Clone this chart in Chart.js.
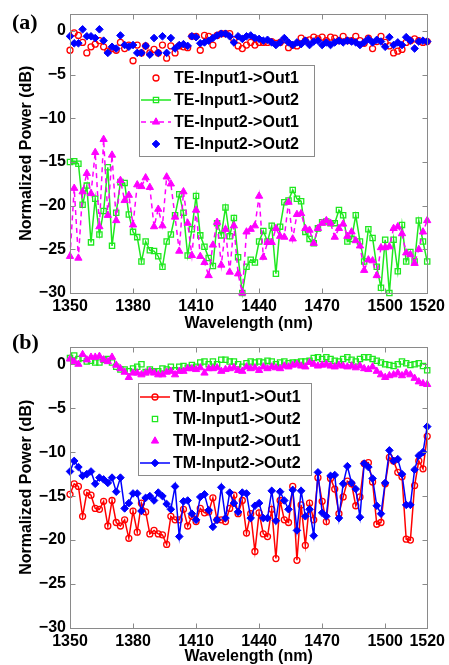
<!DOCTYPE html>
<html>
<head>
<meta charset="utf-8">
<script src="https://cdn.jsdelivr.net/npm/chart.js@4/dist/chart.umd.min.js"></script>
<style>
  html, body { margin: 0; padding: 0; background: #fff; }
  #wrap { position: relative; width: 449px; height: 665px; overflow: hidden; }
  .panel { position: absolute; left: 0; width: 449px; height: 332px; }
  .pl { position: absolute; font-family: "Liberation Serif", "DejaVu Serif", serif; font-weight: bold;
        font-size: 22px; line-height: 22px; color: #000; z-index: 5; }
</style>
</head>
<body>
<div id="wrap">
  <div class="panel" style="top:0"><canvas id="c1"></canvas></div>
  <div class="panel" style="top:333px"><canvas id="c2"></canvas></div>
  <div class="pl" style="left:12px;top:11px">(a)</div>
  <div class="pl" style="left:12px;top:331px">(b)</div>
</div>
<script>
// ---------- DATA ----------
const wavelengths = [1350,1352,1354,1356,1358,1360,1362,1364,1366,1368,
  1370,1372,1374,1376,1378,1380,1382,1384,1386,1388,
  1390,1392,1394,1396,1398,1400,1402,1404,1406,1408,
  1410,1412,1414,1416,1418,1420,1422,1424,1426,1428,
  1430,1432,1434,1436,1438,1440,1442,1444,1446,1448,
  1450,1452,1454,1456,1458,1460,1462,1464,1466,1468,
  1470,1472,1474,1476,1478,1480,1482,1484,1486,1488,
  1490,1492,1494,1496,1498,1500,1502,1504,1506,1508,
  1510,1512,1514,1516,1518,1520];

const xTicks = [1350, 1380, 1410, 1440, 1470, 1500, 1520];
const yTicks = [-30, -25, -20, -15, -10, -5, 0];

// (a) TE
const teIn1Out1 = [-2.2,-0.2,-0.5,-1.3,-2.5,-1.8,-1.5,-1.1,-1.8,-2.3,
  -2.0,-2.2,-1.3,-2.0,-1.6,-3.4,-1.6,-2.5,-1.7,-2.5,
  -2.1,-2.5,-1.6,-3.1,-1.7,-2.5,-1.7,-1.8,-1.9,-0.6,
  -0.6,-2.2,-0.5,-0.6,-1.6,-0.5,-0.3,-0.3,-0.3,-1.0,
  -1.7,-2.0,-1.6,-1.3,-1.6,-1.3,-1.3,-1.3,-1.2,-1.4,
  -1.3,-1.0,-1.9,-1.6,-1.7,-0.8,-1.1,-1.0,-0.7,-0.9,
  -0.7,-1.1,-0.7,-0.8,-1.1,-0.6,-1.1,-1.1,-0.6,-1.1,
  -1.4,-0.8,-2.0,-1.2,-0.6,-1.3,-1.7,-2.5,-2.3,-2.1,
  -1.3,-1.1,-0.9,-1.1,-1.3,-1.2];
const teIn1Out2 = [-15.0,-14.9,-15.2,-19.9,-17.7,-24.2,-19.2,-23.3,-20.6,-15.6,
  -24.6,-20.8,-17.3,-17.4,-21.0,-23.0,-23.6,-26.4,-24.1,-25.1,
  -25.2,-25.8,-27.0,-24.1,-23.3,-21.1,-18.7,-20.8,-25.7,-22.7,
  -18.9,-23.4,-24.7,-26.0,-26.9,-22.0,-23.4,-20.2,-23.5,-21.4,
  -25.9,-30.0,-27.0,-26.2,-26.5,-24.1,-22.9,-24.1,-22.3,-27.8,
  -22.4,-19.6,-19.4,-18.2,-19.2,-19.5,-23.0,-23.8,-24.3,-22.6,
  -21.9,-21.8,-22.0,-22.0,-20.5,-21.1,-24.1,-23.8,-21.1,-24.1,
  -26.4,-22.7,-23.7,-27.0,-29.4,-23.9,-30.0,-23.9,-27.5,-22.2,
  -26.4,-25.3,-26.4,-21.7,-24.1,-26.4];
const teIn2Out1 = [-25.8,-18.0,-26.0,-18.4,-16.3,-18.6,-13.9,-22.4,-12.4,-21.1,
  -14.2,-21.7,-17.1,-19.4,-18.8,-22.2,-17.6,-17.8,-16.8,-17.9,
  -22.4,-20.4,-22.3,-16.7,-17.5,-21.3,-25.2,-18.4,-22.0,-25.7,
  -20.5,-25.8,-26.5,-28.0,-24.5,-21.9,-26.8,-22.7,-27.6,-22.3,
  -27.8,-30.0,-23.0,-22.7,-22.3,-18.9,-25.9,-24.2,-24.2,-22.6,
  -23.5,-23.6,-19.6,-23.8,-21.0,-20.9,-22.6,-22.8,-24.3,-22.6,
  -22.0,-21.7,-22.0,-23.6,-22.6,-22.1,-23.5,-23.0,-24.0,-24.6,
  -27.4,-26.2,-26.3,-28.0,-24.8,-24.8,-24.7,-22.6,-22.4,-23.2,
  -25.4,-25.6,-26.6,-25.0,-23.0,-21.7];
const teIn2Out2 = [-0.6,-1.4,-1.4,0.2,-0.6,-0.6,-0.8,0.2,-1.1,-2.5,
  -1.8,-2.0,-0.5,-1.6,-1.8,-1.6,-2.5,-2.5,-1.7,-2.7,
  -0.8,-2.5,-0.6,-2.5,-0.8,-2.0,-1.6,-1.5,-1.7,-0.6,
  -0.7,-1.4,-1.3,-1.1,-0.8,-0.5,-0.3,-0.3,-0.6,-1.3,
  -0.6,-0.9,-0.6,-0.5,-0.8,-0.9,-1.1,-1.0,-1.3,-1.6,
  -1.3,-0.8,-1.3,-1.6,-1.3,-1.5,-1.1,-1.6,-1.2,-1.1,
  -1.6,-1.3,-1.6,-1.3,-1.1,-1.3,-1.1,-1.2,-1.3,-1.6,
  -1.3,-0.9,-1.3,-1.0,-1.2,-1.8,-0.7,-1.6,-1.3,-1.6,
  -0.7,-1.1,-2.0,-1.2,-1.1,-1.2];

// (b) TM
const tmIn1Out1 = [-14.8,-13.6,-13.9,-17.3,-14.6,-14.9,-16.4,-16.5,-15.6,-18.4,
  -15.5,-18.0,-18.4,-17.7,-19.8,-16.7,-19.1,-15.8,-16.8,-19.3,
  -18.9,-19.3,-19.4,-20.5,-17.3,-17.7,-17.7,-16.5,-18.4,-17.3,
  -17.9,-16.4,-16.9,-16.8,-15.2,-17.7,-17.7,-17.9,-16.4,-14.9,
  -17.0,-15.5,-19.2,-17.0,-21.3,-16.9,-19.3,-19.6,-16.5,-22.1,
  -15.5,-17.7,-18.0,-13.9,-22.3,-16.0,-20.6,-15.8,-17.7,-12.9,
  -15.6,-17.9,-13.0,-14.2,-17.0,-15.1,-13.3,-13.6,-16.1,-15.1,
  -11.3,-11.2,-13.4,-18.2,-18.0,-13.6,-10.6,-11.0,-12.3,-12.8,
  -19.9,-20.0,-13.8,-11.0,-11.9,-8.2];
const tmIn1Out2 = [0.7,1.0,0.6,0.7,0.3,0.4,0.2,0.2,0.5,0.6,
  0.2,-0.3,-0.6,-0.6,-0.8,-0.5,-0.3,0.0,-0.9,-0.6,
  -0.8,-0.8,-0.5,-0.6,-0.3,-0.7,-0.3,-0.2,-0.4,-0.1,
  -0.3,0.2,0.3,0.0,0.3,0.0,0.5,0.5,0.3,0.3,
  0.0,-0.3,0.1,0.3,0.2,0.3,0.2,0.4,0.3,0.0,
  0.2,0.3,0.1,0.2,0.2,0.3,0.3,0.4,0.7,0.8,
  0.6,0.8,0.6,0.4,0.3,0.6,0.8,0.5,0.3,0.6,
  0.8,0.8,0.6,0.4,0.2,0.0,-0.1,-0.2,0.0,0.3,
  0.1,-0.1,0.0,0.1,-0.2,-0.7];
const tmIn2Out1 = [0.6,0.3,0.0,1.1,0.5,0.8,0.8,0.9,0.5,0.3,
  0.8,-0.1,-0.5,-0.9,-1.5,-1.0,-1.0,-1.2,-1.0,-0.8,
  -1.0,-1.2,-1.2,-0.9,-0.8,-1.2,-0.8,-0.8,-0.5,-0.5,
  -0.6,-0.4,-1.0,-0.5,-0.5,-0.4,-0.8,-0.6,-0.5,-0.4,
  -0.7,-0.8,-0.3,-0.5,-0.4,-0.7,-0.3,-0.5,-0.3,-0.4,
  -0.5,-0.2,-0.3,-0.1,0.0,-0.2,-0.3,0.2,0.0,-0.2,
  -0.1,0.0,-0.2,-0.3,-0.1,-0.2,-0.3,-0.2,-0.4,-0.2,
  -0.5,-0.6,-0.3,-0.8,-1.2,-1.5,-1.3,-1.2,-1.0,-1.3,
  -1.0,-1.2,-1.6,-2.0,-2.2,-2.3];
const tmIn2Out2 = [-12.2,-11.0,-11.7,-12.7,-12.5,-12.2,-13.6,-12.9,-13.1,-13.5,
  -12.9,-14.5,-12.9,-16.4,-15.8,-14.7,-14.7,-16.7,-15.2,-15.0,
  -15.5,-14.6,-15.0,-15.9,-16.5,-13.9,-19.6,-15.6,-15.5,-17.0,
  -17.7,-15.1,-14.8,-16.6,-18.5,-17.7,-14.0,-17.5,-14.6,-15.8,
  -16.8,-14.6,-14.7,-17.5,-16.1,-15.8,-17.5,-17.5,-14.4,-17.8,
  -14.5,-15.5,-16.5,-14.3,-18.9,-14.4,-17.3,-16.5,-19.5,-12.3,
  -16.9,-17.3,-12.7,-12.6,-17.5,-13.6,-11.6,-13.5,-14.2,-17.4,
  -11.3,-11.7,-13.0,-16.1,-17.0,-13.5,-9.8,-11.0,-10.8,-12.5,
  -16.0,-16.0,-12.0,-10.4,-10.0,-7.1];

const teLabels = ['TE-Input1->Out1', 'TE-Input1->Out2', 'TE-Input2->Out1', 'TE-Input2->Out2'];
const tmLabels = ['TM-Input1->Out1', 'TM-Input1->Out2', 'TM-Input2->Out1', 'TM-Input2->Out2'];

// ---------- STYLE ----------
const RED = '#ff0000', GREEN = '#1fe81f', MAG = '#ff00ff', BLUE = '#0000ff';
const FONT = '"Liberation Sans", Arial, Helvetica, sans-serif';
const pts = (vals) => wavelengths.map((w, i) => ({ x: w, y: vals[i] }));

function ds(label, vals, o, idx) {
  return Object.assign({
    label, data: pts(vals), clip: false, order: 10 - idx,
    borderWidth: 1.5, pointBorderWidth: 1.3, pointHoverRadius: 0,
  }, o);
}
const sCircleOpen = (c, line) => ({ showLine: line, borderColor: c, pointStyle: 'circle', pointRadius: 3,
  pointBorderColor: c, pointBackgroundColor: 'rgba(0,0,0,0)', backgroundColor: 'rgba(0,0,0,0)' });
const sSquareOpen = (c, line) => ({ showLine: line, borderColor: c, pointStyle: 'rect', pointRadius: 3.7,
  pointBorderColor: c, pointBackgroundColor: 'rgba(0,0,0,0)', backgroundColor: 'rgba(0,0,0,0)' });
const sTriangle = (c, line, dash) => ({ showLine: line, borderColor: c, borderDash: dash || [], pointStyle: 'triangle',
  pointRadius: 4.2, pointBorderWidth: 1, pointBorderColor: c, pointBackgroundColor: c, backgroundColor: c });
const sDiamond = (c, line) => ({ showLine: line, borderColor: c, pointStyle: 'rectRot', pointRadius: 3.8,
  pointBorderWidth: 1, pointBorderColor: c, pointBackgroundColor: c, backgroundColor: c });

function drawMarker(ctx, d, x, y) {
  ctx.save();
  ctx.setLineDash([]);
  ctx.fillStyle = d.pointBackgroundColor;
  ctx.strokeStyle = d.pointBorderColor;
  ctx.lineWidth = d.pointBorderWidth;
  Chart.helpers.drawPoint(ctx, { pointStyle: d.pointStyle, radius: d.pointRadius, rotation: 0,
    borderWidth: d.pointBorderWidth }, x, y);
  ctx.restore();
}

const framePlugin = {
  id: 'frame',
  afterDatasetsDraw(chart, args, opts) {
    const { ctx, chartArea: a, scales: { x, y } } = chart;
    ctx.save();
    ctx.strokeStyle = '#8a8a8a';
    ctx.lineWidth = 1;
    ctx.setLineDash([]);
    const L = Math.round(a.left) + 0.5, R = Math.round(a.right) + 0.5;
    const T = Math.round(a.top) + 0.5, B = Math.round(a.bottom) + 0.5;
    ctx.strokeRect(L, T, R - L, B - T);
    ctx.beginPath();
    x.ticks.forEach(t => {
      const px = Math.round(x.getPixelForValue(t.value)) + 0.5;
      ctx.moveTo(px, B); ctx.lineTo(px, B - 5);
      ctx.moveTo(px, T); ctx.lineTo(px, T + 5);
    });
    y.ticks.forEach(t => {
      const py = Math.round(y.getPixelForValue(t.value)) + 0.5;
      ctx.moveTo(L, py); ctx.lineTo(L + 5, py);
      ctx.moveTo(R, py); ctx.lineTo(R - 5, py);
    });
    ctx.stroke();
    ctx.restore();
  },
  afterDraw(chart, args, opts) {
    const { ctx } = chart;
    const b = opts.box;
    ctx.save();
    ctx.fillStyle = '#fff';
    ctx.fillRect(b.left, b.top, b.width, b.height);
    ctx.strokeStyle = '#8a8a8a';
    ctx.lineWidth = 1;
    ctx.strokeRect(b.left + 0.5, b.top + 0.5, b.width, b.height);
    chart.data.datasets.forEach((d, i) => {
      const y = b.top + b.first + i * b.step;
      const x0 = b.left + 2, x1 = b.left + 32, xm = (x0 + x1) / 2;
      if (d.showLine) {
        ctx.save();
        ctx.strokeStyle = d.borderColor;
        ctx.lineWidth = d.borderWidth;
        ctx.setLineDash(d.borderDash || []);
        ctx.beginPath(); ctx.moveTo(x0, y); ctx.lineTo(x1, y); ctx.stroke();
        ctx.restore();
      }
      drawMarker(ctx, d, xm, y);
      ctx.fillStyle = '#000';
      ctx.font = 'bold 16px ' + FONT;
      ctx.textBaseline = 'middle';
      ctx.textAlign = 'left';
      ctx.fillText(d.label, b.left + 35, y + 1);
    });
    ctx.restore();
  }
};

function fmt(v) { return v < 0 ? '\u2212' + Math.abs(v) : String(v); }

function makeChart(id, datasets, padTop, xHeight, xTitlePad, box) {
  return new Chart(document.getElementById(id), {
    type: 'scatter',
    data: { datasets },
    plugins: [framePlugin],
    options: {
      responsive: true, maintainAspectRatio: false, animation: false, devicePixelRatio: 1,
      events: [],
      layout: { padding: { top: padTop, right: 18, left: 0, bottom: 0 } },
      plugins: { legend: { display: false }, tooltip: { enabled: false }, frame: { box } },
      scales: {
        x: {
          type: 'linear', min: 1350, max: 1520,
          afterBuildTicks: s => { s.ticks = xTicks.map(v => ({ value: v })); },
          afterFit: s => { s.height = xHeight; },
          grid: { display: false, drawTicks: false },
          border: { display: false },
          ticks: { color: '#000', font: { family: FONT, size: 16, weight: 'bold' }, padding: 4,
                   maxRotation: 0, autoSkip: false, callback: v => String(v) },
          title: { display: true, text: 'Wavelength (nm)', color: '#000',
                   font: { family: FONT, size: 16, weight: 'bold', lineHeight: 1 },
                   padding: { top: 0, bottom: xTitlePad } }
        },
        y: {
          type: 'linear', min: -30, max: 2,
          afterBuildTicks: s => { s.ticks = yTicks.map(v => ({ value: v })); },
          afterFit: s => { s.width = 70; },
          grid: { display: false, drawTicks: false },
          border: { display: false },
          ticks: { color: '#000', font: { family: FONT, size: 16, weight: 'bold' }, padding: 4,
                   callback: v => fmt(v) },
          title: { display: true, text: 'Normalized Power (dB)', color: '#000',
                   font: { family: FONT, size: 16, weight: 'bold', lineHeight: 1 },
                   padding: { top: 19, bottom: 0 } }
        }
      }
    }
  });
}

makeChart('c1', [
  ds(teLabels[0], teIn1Out1, sCircleOpen(RED, false), 0),
  ds(teLabels[1], teIn1Out2, sSquareOpen(GREEN, true), 1),
  ds(teLabels[2], teIn2Out1, sTriangle(MAG, true, [5, 4]), 2),
  ds(teLabels[3], teIn2Out2, sDiamond(BLUE, false), 3)
], 10, 39, 0, { left: 139, top: 65, width: 175, height: 91, first: 13, step: 22 });

makeChart('c2', [
  ds(tmLabels[0], tmIn1Out1, sCircleOpen(RED, true), 0),
  ds(tmLabels[1], tmIn1Out2, sSquareOpen(GREEN, false), 1),
  ds(tmLabels[2], tmIn2Out1, sTriangle(MAG, false), 2),
  ds(tmLabels[3], tmIn2Out2, sDiamond(BLUE, true), 3)
], 12, 37, 0, { left: 138, top: 50, width: 173, height: 92, first: 14, step: 22 });
</script>
</body>
</html>
